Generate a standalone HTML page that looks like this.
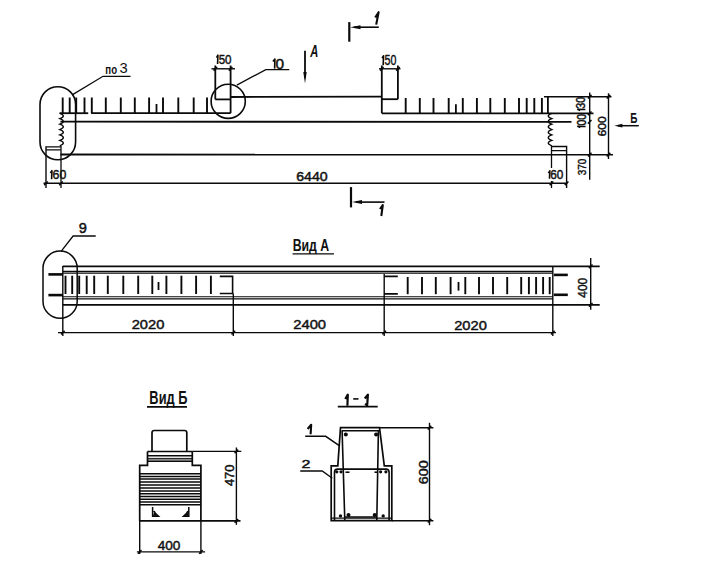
<!DOCTYPE html>
<html><head><meta charset="utf-8"><style>
html,body{margin:0;padding:0;background:#fff;width:702px;height:579px;overflow:hidden}
svg{display:block}
text{font-family:"Liberation Sans",sans-serif;fill:#111}
</style></head><body>
<svg width="702" height="579" viewBox="0 0 702 579">
<rect width="702" height="579" fill="#fff"/>
<g stroke="#0a0a0a" stroke-width="1.8" fill="none" stroke-linecap="butt">
<line x1="62.7" y1="97.5" x2="62.7" y2="113.2" stroke-width="1.9"/>
<line x1="69.7" y1="97.5" x2="69.7" y2="113.2" stroke-width="1.9"/>
<line x1="76.2" y1="97.5" x2="76.2" y2="113.2" stroke-width="1.9"/>
<line x1="84.5" y1="97.5" x2="84.5" y2="113.2" stroke-width="1.9"/>
<line x1="91.8" y1="97.5" x2="91.8" y2="113.2" stroke-width="1.9"/>
<line x1="105.8" y1="97.5" x2="105.8" y2="113.2" stroke-width="1.9"/>
<line x1="120.8" y1="97.5" x2="120.8" y2="113.2" stroke-width="1.9"/>
<line x1="134.8" y1="97.5" x2="134.8" y2="113.2" stroke-width="1.9"/>
<line x1="149.1" y1="97.5" x2="149.1" y2="113.2" stroke-width="1.9"/>
<line x1="163" y1="97.5" x2="163" y2="113.2" stroke-width="1.9"/>
<line x1="178.3" y1="97.5" x2="178.3" y2="113.2" stroke-width="1.9"/>
<line x1="193.7" y1="97.5" x2="193.7" y2="113.2" stroke-width="1.9"/>
<line x1="207" y1="97.5" x2="207" y2="113.2" stroke-width="1.9"/>
<line x1="156.5" y1="104" x2="156.5" y2="113.2"/>
<line x1="405.7" y1="98" x2="405.7" y2="113.2" stroke-width="1.9"/>
<line x1="419.8" y1="98" x2="419.8" y2="113.2" stroke-width="1.9"/>
<line x1="433.5" y1="98" x2="433.5" y2="113.2" stroke-width="1.9"/>
<line x1="448.7" y1="98" x2="448.7" y2="113.2" stroke-width="1.9"/>
<line x1="462.8" y1="98" x2="462.8" y2="113.2" stroke-width="1.9"/>
<line x1="476.9" y1="98" x2="476.9" y2="113.2" stroke-width="1.9"/>
<line x1="490.3" y1="98" x2="490.3" y2="113.2" stroke-width="1.9"/>
<line x1="504.8" y1="98" x2="504.8" y2="113.2" stroke-width="1.9"/>
<line x1="519" y1="98" x2="519" y2="113.2" stroke-width="1.9"/>
<line x1="526.7" y1="98" x2="526.7" y2="113.2" stroke-width="1.9"/>
<line x1="534.3" y1="98" x2="534.3" y2="113.2" stroke-width="1.9"/>
<line x1="541.9" y1="98" x2="541.9" y2="113.2" stroke-width="1.9"/>
<line x1="455.9" y1="104.2" x2="455.9" y2="113.2"/>
<line x1="547.9" y1="96.7" x2="547.9" y2="113.2"/>
<line x1="59.5" y1="113.2" x2="88.2" y2="113.2"/>
<line x1="91.1" y1="113.2" x2="230.6" y2="113.2"/>
<line x1="381.8" y1="113.3" x2="593.5" y2="113.3"/>
<line x1="215.3" y1="65.5" x2="215.3" y2="99.4"/>
<line x1="215.3" y1="99.4" x2="230.6" y2="99.4"/>
<line x1="230.6" y1="65.5" x2="230.6" y2="113.2"/>
<line x1="211.5" y1="68.8" x2="235" y2="68.8" stroke-width="1.4"/>
<line x1="213.5" y1="70.6" x2="217.10000000000002" y2="67.0" stroke-width="1.5"/>
<line x1="228.79999999999998" y1="70.6" x2="232.4" y2="67.0" stroke-width="1.5"/>
<line x1="230.6" y1="97.0" x2="381.8" y2="96.6"/>
<line x1="381.8" y1="65.5" x2="381.8" y2="113.3"/>
<line x1="397.9" y1="65.5" x2="397.9" y2="99.2"/>
<line x1="381.8" y1="99.2" x2="397.9" y2="99.2"/>
<line x1="379" y1="68.8" x2="400.5" y2="68.8" stroke-width="1.4"/>
<line x1="380.0" y1="70.6" x2="383.6" y2="67.0" stroke-width="1.5"/>
<line x1="396.09999999999997" y1="70.6" x2="399.7" y2="67.0" stroke-width="1.5"/>
<line x1="544" y1="96.7" x2="611.5" y2="96.7" stroke-width="1.4"/>
<line x1="60.4" y1="121.7" x2="571.5" y2="121.8"/>
<line x1="60.4" y1="154.5" x2="613" y2="154.6"/>
<path d="M59.8,113.3 Q66.84,116.01 59.8,118.72 Q66.84,121.42 59.8,124.13 Q66.84,126.84 59.8,129.55 Q66.84,132.26 59.8,134.97 Q66.84,137.68 59.8,140.38 Q66.84,143.09 59.8,145.80" stroke-width="1.4"/>
<path d="M551.8,113.3 Q544.76,116.01 551.8,118.72 Q544.76,121.42 551.8,124.13 Q544.76,126.84 551.8,129.55 Q544.76,132.26 551.8,134.97 Q544.76,137.68 551.8,140.38 Q544.76,143.09 551.8,145.80" stroke-width="1.4"/>
<path d="M46,188 V146.9 H60.8 M46,149.9 H60.8" stroke-width="1.4"/>
<path d="M551.7,146.5 H566.6 V188 M551.7,150.6 H566.6" stroke-width="1.4"/>
<line x1="61" y1="145.8" x2="61" y2="188" stroke-width="1.3"/>
<line x1="551.5" y1="145.8" x2="551.5" y2="168" stroke-width="1.3"/>
<line x1="551.5" y1="181" x2="551.5" y2="188" stroke-width="1.3"/>
<line x1="43.5" y1="183.3" x2="567.3" y2="183.3" stroke-width="1.4"/>
<line x1="44.2" y1="185.10000000000002" x2="47.8" y2="181.5" stroke-width="1.5"/>
<line x1="59.2" y1="185.10000000000002" x2="62.8" y2="181.5" stroke-width="1.5"/>
<line x1="549.7" y1="185.10000000000002" x2="553.3" y2="181.5" stroke-width="1.5"/>
<line x1="564.8000000000001" y1="185.10000000000002" x2="568.4" y2="181.5" stroke-width="1.5"/>
<line x1="589.7" y1="92.4" x2="589.7" y2="179.8" stroke-width="1.4"/>
<line x1="587.9000000000001" y1="98.5" x2="591.5" y2="94.9" stroke-width="1.5"/>
<line x1="587.9000000000001" y1="115.1" x2="591.5" y2="111.5" stroke-width="1.5"/>
<line x1="587.9000000000001" y1="123.6" x2="591.5" y2="120.0" stroke-width="1.5"/>
<line x1="587.9000000000001" y1="156.4" x2="591.5" y2="152.79999999999998" stroke-width="1.5"/>
<line x1="608.5" y1="93.3" x2="608.5" y2="159" stroke-width="1.4"/>
<line x1="606.7" y1="98.5" x2="610.3" y2="94.9" stroke-width="1.5"/>
<line x1="606.7" y1="156.4" x2="610.3" y2="152.79999999999998" stroke-width="1.5"/>
<line x1="618" y1="125.7" x2="638.8" y2="125.7" stroke-width="1.5"/>
<path d="M614.4,125.7 L622.4,123.8 L622.4,127.6 Z" fill="#0a0a0a" stroke="none"/>
<rect x="40" y="86.7" width="35.6" height="73.1" rx="17.8" ry="17.8" stroke-width="1.6"/>
<polyline points="72.2,94.9 103,76.3 130.5,76.3" stroke-width="1.3"/>
<circle cx="228.2" cy="101.3" r="17.1" stroke-width="1.6"/>
<polyline points="236.8,85.1 265.8,69.6 289.3,69.6" stroke-width="1.3"/>
<line x1="349.3" y1="22.1" x2="349.3" y2="41.7" stroke-width="2.2"/>
<line x1="354" y1="27.2" x2="378.8" y2="27.2" stroke-width="1.6"/>
<path d="M350.2,27.2 L360.5,25.2 L360.5,29.2 Z" fill="#0a0a0a" stroke="none"/>
<line x1="305" y1="50.8" x2="305" y2="78" stroke-width="1.8"/>
<path d="M305,83.6 L303.3,72 L306.7,72 Z" fill="#0a0a0a" stroke="none"/>
<line x1="351" y1="187.1" x2="351" y2="207.4" stroke-width="2.2"/>
<line x1="356" y1="202.1" x2="384.5" y2="202.1" stroke-width="1.6"/>
<path d="M352,202.1 L362,200.1 L362,204.1 Z" fill="#0a0a0a" stroke="none"/>
<line x1="62.8" y1="266.3" x2="599.7" y2="266.3"/>
<line x1="62.8" y1="304.8" x2="599.7" y2="304.8"/>
<line x1="62.8" y1="266" x2="62.8" y2="336" stroke-width="1.4"/>
<line x1="552.8" y1="266" x2="552.8" y2="336" stroke-width="1.4"/>
<line x1="62.8" y1="271.3" x2="552.8" y2="271.3" stroke-width="1.15"/>
<line x1="62.8" y1="273.1" x2="552.8" y2="273.1" stroke-width="1.15"/>
<line x1="62.8" y1="296.7" x2="552.8" y2="296.7" stroke-width="1.15"/>
<line x1="62.8" y1="298.9" x2="552.8" y2="298.9" stroke-width="1.15"/>
<line x1="48.4" y1="274.4" x2="62.8" y2="274.4" stroke-width="2.6"/>
<line x1="48.4" y1="295.1" x2="62.8" y2="295.1" stroke-width="2.6"/>
<line x1="553.8" y1="274.9" x2="567.8" y2="274.9" stroke-width="2.6"/>
<line x1="553.8" y1="294.8" x2="567.8" y2="294.8" stroke-width="2.6"/>
<line x1="65.5" y1="275.7" x2="65.5" y2="294" stroke-width="1.9"/>
<line x1="72.2" y1="275.7" x2="72.2" y2="294" stroke-width="1.9"/>
<line x1="79.2" y1="275.7" x2="79.2" y2="294" stroke-width="1.9"/>
<line x1="86.7" y1="275.7" x2="86.7" y2="294" stroke-width="1.9"/>
<line x1="94.2" y1="275.7" x2="94.2" y2="294" stroke-width="1.9"/>
<line x1="107.8" y1="275.7" x2="107.8" y2="294" stroke-width="1.9"/>
<line x1="123.3" y1="275.7" x2="123.3" y2="294" stroke-width="1.9"/>
<line x1="138.2" y1="275.7" x2="138.2" y2="294" stroke-width="1.9"/>
<line x1="152.3" y1="275.7" x2="152.3" y2="294" stroke-width="1.9"/>
<line x1="166.4" y1="275.7" x2="166.4" y2="294" stroke-width="1.9"/>
<line x1="181.4" y1="275.7" x2="181.4" y2="294" stroke-width="1.9"/>
<line x1="196.1" y1="275.7" x2="196.1" y2="294" stroke-width="1.9"/>
<line x1="210.9" y1="275.7" x2="210.9" y2="294" stroke-width="1.9"/>
<line x1="158.5" y1="282" x2="158.5" y2="290"/>
<line x1="407.7" y1="277" x2="407.7" y2="294.2" stroke-width="1.9"/>
<line x1="422" y1="277" x2="422" y2="294.2" stroke-width="1.9"/>
<line x1="435.8" y1="277" x2="435.8" y2="294.2" stroke-width="1.9"/>
<line x1="450.6" y1="277" x2="450.6" y2="294.2" stroke-width="1.9"/>
<line x1="465.3" y1="277" x2="465.3" y2="294.2" stroke-width="1.9"/>
<line x1="479" y1="277" x2="479" y2="294.2" stroke-width="1.9"/>
<line x1="493" y1="277" x2="493" y2="294.2" stroke-width="1.9"/>
<line x1="507.2" y1="277" x2="507.2" y2="294.2" stroke-width="1.9"/>
<line x1="521.2" y1="277" x2="521.2" y2="294.2" stroke-width="1.9"/>
<line x1="528.9" y1="277" x2="528.9" y2="294.2" stroke-width="1.9"/>
<line x1="536.1" y1="277" x2="536.1" y2="294.2" stroke-width="1.9"/>
<line x1="543.1" y1="277" x2="543.1" y2="294.2" stroke-width="1.9"/>
<line x1="549.7" y1="277" x2="549.7" y2="294.2" stroke-width="1.9"/>
<line x1="458.5" y1="282" x2="458.5" y2="290.6"/>
<path d="M219.8,276.4 H232.6 V293.5 H219.8" stroke-width="1.6"/>
<line x1="233.3" y1="293.5" x2="233.3" y2="336" stroke-width="1.4"/>
<line x1="384.2" y1="274" x2="384.2" y2="336" stroke-width="1.4"/>
<path d="M397.8,276.4 H384.2 M384.2,293.9 H397.8" stroke-width="1.6"/>
<line x1="58" y1="332.6" x2="556" y2="332.6" stroke-width="1.3"/>
<line x1="61.0" y1="334.40000000000003" x2="64.6" y2="330.8" stroke-width="1.5"/>
<line x1="231.5" y1="334.40000000000003" x2="235.10000000000002" y2="330.8" stroke-width="1.5"/>
<line x1="382.4" y1="334.40000000000003" x2="386.0" y2="330.8" stroke-width="1.5"/>
<line x1="551.0" y1="334.40000000000003" x2="554.5999999999999" y2="330.8" stroke-width="1.5"/>
<line x1="590.7" y1="258" x2="590.7" y2="309.8" stroke-width="1.4"/>
<line x1="588.9000000000001" y1="268.1" x2="592.5" y2="264.5" stroke-width="1.5"/>
<line x1="588.9000000000001" y1="306.6" x2="592.5" y2="303.0" stroke-width="1.5"/>
<rect x="43" y="251.1" width="34.2" height="67.2" rx="17.1" ry="17.1" stroke-width="1.5"/>
<polyline points="61.1,251.3 73.1,236 95.7,236" stroke-width="1.3"/>
<line x1="292.6" y1="253.8" x2="334" y2="253.8" stroke-width="1.3"/>
<line x1="147" y1="406.9" x2="187" y2="406.9" stroke-width="1.6"/>
<path d="M152,451.5 V432.8 Q152,430.5 154.3,430.5 H184.5 Q186.8,430.5 186.8,432.8 V451.5" stroke-width="1.7"/>
<path d="M147.5,451.5 H192.3" stroke-width="1.6"/>
<path d="M147.5,455.8 H192.3" stroke-width="1.4"/>
<rect x="147.5" y="458.2" width="44.8" height="3.3" fill="#8a8a8a" stroke="none"/>
<path d="M147.5,458.4 H192.3" stroke-width="0.9"/>
<path d="M147.5,461.4 H192.3" stroke-width="1.2"/>
<path d="M147.5,451.5 V465.4 H139.7 V520.9 M192.3,451.5 V465.4 H200.9 V520.9" stroke-width="1.7"/>
<line x1="192.3" y1="451.4" x2="241.3" y2="451.4" stroke-width="1.4"/>
<line x1="139.7" y1="473.8" x2="200.9" y2="473.8" stroke-width="1.5"/>
<line x1="139.7" y1="476.4" x2="200.9" y2="476.4" stroke-width="1.5"/>
<line x1="139.7" y1="479.1" x2="200.9" y2="479.1" stroke-width="1.5"/>
<line x1="139.7" y1="482.1" x2="200.9" y2="482.1" stroke-width="1.5"/>
<line x1="139.7" y1="485.1" x2="200.9" y2="485.1" stroke-width="1.5"/>
<line x1="139.7" y1="488.0" x2="200.9" y2="488.0" stroke-width="1.5"/>
<line x1="139.7" y1="490.9" x2="200.9" y2="490.9" stroke-width="1.5"/>
<line x1="139.7" y1="493.8" x2="200.9" y2="493.8" stroke-width="1.5"/>
<line x1="139.7" y1="496.6" x2="200.9" y2="496.6" stroke-width="1.5"/>
<line x1="139.7" y1="499.3" x2="200.9" y2="499.3" stroke-width="1.5"/>
<line x1="139.7" y1="502.1" x2="200.9" y2="502.1" stroke-width="1.5"/>
<line x1="139.7" y1="504.8" x2="200.9" y2="504.8" stroke-width="1.5"/>
<line x1="139.7" y1="520.9" x2="240.5" y2="520.9" stroke-width="1.6"/>
<path d="M152.6,506.9 V516.2 H158.3 Q155,513.5 154,511" stroke-width="1.5"/>
<path d="M153,516 L158,516 L154.2,511.5 Z" fill="#111" stroke="none"/>
<path d="M188.8,506.9 V516.2 H183.7 Q187,513.5 188,511" stroke-width="1.5"/>
<path d="M188.5,516 L183.7,516 L187.8,511.5 Z" fill="#111" stroke="none"/>
<line x1="236.4" y1="447.5" x2="236.4" y2="524.8" stroke-width="1.4"/>
<line x1="234.6" y1="453.2" x2="238.20000000000002" y2="449.59999999999997" stroke-width="1.5"/>
<line x1="234.6" y1="522.6999999999999" x2="238.20000000000002" y2="519.1" stroke-width="1.5"/>
<line x1="139.7" y1="520.9" x2="139.7" y2="554" stroke-width="1.4"/>
<line x1="200.9" y1="520.9" x2="200.9" y2="554" stroke-width="1.4"/>
<line x1="136.9" y1="551.9" x2="205.1" y2="551.9" stroke-width="1.4"/>
<line x1="137.89999999999998" y1="553.6999999999999" x2="141.5" y2="550.1" stroke-width="1.5"/>
<line x1="199.1" y1="553.6999999999999" x2="202.70000000000002" y2="550.1" stroke-width="1.5"/>
<line x1="337.8" y1="406.6" x2="377.7" y2="406.6" stroke-width="1.6"/>
<line x1="353.2" y1="398.9" x2="358.5" y2="398.9" stroke-width="1.6"/>
<path d="M340.5,427.7 H379.5 L384.3,465.9 H391.8 V520.7 H331.2 V465.9 H337.8 Z" stroke-width="1.7"/>
<line x1="331.2" y1="518.1" x2="391.8" y2="518.1" stroke-width="1.4"/>
<line x1="379.5" y1="427.7" x2="433.4" y2="427.7" stroke-width="1.4"/>
<line x1="391.8" y1="520.7" x2="433.4" y2="520.7" stroke-width="1.4"/>
<line x1="429.5" y1="422.8" x2="429.5" y2="525.2" stroke-width="1.4"/>
<line x1="427.7" y1="429.5" x2="431.3" y2="425.9" stroke-width="1.5"/>
<line x1="427.7" y1="522.5" x2="431.3" y2="518.9000000000001" stroke-width="1.5"/>
<path d="M341.6,430.7 H379 M342.1,430.7 L344.8,520.7 M378.4,430.7 L376.8,520.7 M344.8,517 H376.8" stroke-width="1.6"/>
<path d="M334.5,520.5 V472.2 Q334.5,469.1 337.6,469.1 H386 Q389.1,469.1 389.1,472.2 V520.5" stroke-width="1.6"/>
<circle cx="345.8" cy="434.4" r="2.0" fill="#0a0a0a" stroke="none"/>
<circle cx="376.1" cy="434.4" r="2.0" fill="#0a0a0a" stroke="none"/>
<circle cx="336.8" cy="471.8" r="1.6" fill="#0a0a0a" stroke="none"/>
<circle cx="341" cy="471.8" r="1.6" fill="#0a0a0a" stroke="none"/>
<circle cx="380.6" cy="471.8" r="1.6" fill="#0a0a0a" stroke="none"/>
<circle cx="385.9" cy="471.8" r="1.6" fill="#0a0a0a" stroke="none"/>
<circle cx="340.5" cy="515.9" r="1.7" fill="#0a0a0a" stroke="none"/>
<circle cx="348.5" cy="514.9" r="2.0" fill="#0a0a0a" stroke="none"/>
<circle cx="374.7" cy="514.9" r="2.0" fill="#0a0a0a" stroke="none"/>
<circle cx="383.2" cy="515.9" r="1.7" fill="#0a0a0a" stroke="none"/>
<line x1="345.5" y1="472.2" x2="349.5" y2="472.2" stroke-width="1.6"/>
<line x1="374.5" y1="472.2" x2="377" y2="472.2" stroke-width="1.6"/>
<polyline points="305.2,436.3 325.7,436.3 339.6,445.8" stroke-width="1.4"/>
<path d="M300.2,471 H322.2 L332.3,478.2" stroke-width="1.4"/>
<text font-size="12.73" font-weight="bold" font-style="normal" stroke="none" transform="translate(105.32,73.57) scale(0.761,1)">по</text>
<text font-size="15.49" font-weight="normal" font-style="normal" stroke="none" transform="translate(119.61,72.85) scale(0.951,1)">3</text>
<path d="M216.50,57.60 L217.90,55.20 L217.60,64.00" stroke-width="1.6" stroke-linejoin="round"/>
<text font-size="13.52" font-weight="normal" font-style="normal" stroke="#111" stroke-width="0.45" stroke-linejoin="round" transform="translate(218.64,64.06) scale(0.857,1)">50</text>
<path d="M272.90,61.50 L274.90,59.10 L274.60,68.60" stroke-width="1.6" stroke-linejoin="round"/>
<text font-size="14.51" font-weight="normal" font-style="normal" stroke="#111" stroke-width="0.45" stroke-linejoin="round" transform="translate(275.48,68.65) scale(1.063,1)">0</text>
<path d="M382.00,58.20 L383.50,55.80 L383.20,65.20" stroke-width="1.6" stroke-linejoin="round"/>
<text font-size="14.37" font-weight="normal" font-style="normal" stroke="#111" stroke-width="0.45" stroke-linejoin="round" transform="translate(384.47,65.26) scale(0.740,1)">50</text>
<text font-size="15.65" font-weight="bold" font-style="italic" stroke="none" transform="translate(310.32,57.30) scale(0.715,1)">A</text>
<path d="M50.40,173.00 L51.90,170.60 L51.60,179.30" stroke-width="1.6" stroke-linejoin="round"/>
<text font-size="13.38" font-weight="normal" font-style="normal" stroke="#111" stroke-width="0.45" stroke-linejoin="round" transform="translate(52.58,179.37) scale(0.926,1)">60</text>
<text font-size="12.61" font-weight="normal" font-style="normal" stroke="#111" stroke-width="0.45" stroke-linejoin="round" transform="translate(296.19,180.87) scale(1.123,1)">6440</text>
<path d="M548.40,173.20 L549.80,170.80 L549.50,178.70" stroke-width="1.6" stroke-linejoin="round"/>
<text font-size="12.25" font-weight="normal" font-style="normal" stroke="#111" stroke-width="0.45" stroke-linejoin="round" transform="translate(550.21,178.78) scale(0.963,1)">60</text>
<path d="M580.10,110.60 L577.70,109.20 L585.40,109.50" stroke-width="1.6" stroke-linejoin="round"/>
<text font-size="11.97" font-weight="normal" font-style="normal" stroke="#111" stroke-width="0.45" stroke-linejoin="round" transform="translate(585.48,108.63) rotate(-90) scale(0.888,1)">30</text>
<path d="M580.20,127.60 L577.80,126.20 L585.60,126.50" stroke-width="1.6" stroke-linejoin="round"/>
<text font-size="12.11" font-weight="normal" font-style="normal" stroke="#111" stroke-width="0.45" stroke-linejoin="round" transform="translate(585.68,125.52) rotate(-90) scale(0.861,1)">00</text>
<text font-size="10.99" font-weight="normal" font-style="normal" stroke="#111" stroke-width="0.45" stroke-linejoin="round" transform="translate(606.19,136.61) rotate(-90) scale(1.112,1)">600</text>
<text font-size="11.83" font-weight="normal" font-style="normal" stroke="#111" stroke-width="0.45" stroke-linejoin="round" transform="translate(586.18,175.20) rotate(-90) scale(0.840,1)">370</text>
<path d="M375.2,17.5 L378.6,12.2 L376.2,24.6" stroke-width="2.1" stroke-linejoin="round"/>
<path d="M380,209 L382.8,205 L381.3,216" stroke-width="2.1" stroke-linejoin="round"/>
<path d="M345.3,399 L347.8,394.6 L347.4,405.7" stroke-width="2.2" stroke-linejoin="round"/>
<path d="M364.8,398.5 L367.9,394.6 L367.2,405.2 L365,404" stroke-width="2.2" stroke-linejoin="round"/>
<path d="M307.6,429 L311.2,424.8 L310.6,434.2" stroke-width="2.1" stroke-linejoin="round"/>
<text font-size="15.36" font-weight="bold" font-style="normal" stroke="none" transform="translate(630.35,123.40) scale(0.651,1)">Б</text>
<text font-size="14.51" font-weight="normal" font-style="normal" stroke="#111" stroke-width="0.45" stroke-linejoin="round" transform="translate(78.84,233.25) scale(1.008,1)">9</text>
<text font-size="17.10" font-weight="bold" font-style="normal" stroke="none" transform="translate(292.70,251.20) scale(0.719,1)">Вид А</text>
<text font-size="12.68" font-weight="normal" font-style="normal" stroke="#111" stroke-width="0.45" stroke-linejoin="round" transform="translate(131.67,328.87) scale(1.158,1)">2020</text>
<text font-size="12.68" font-weight="normal" font-style="normal" stroke="#111" stroke-width="0.45" stroke-linejoin="round" transform="translate(293.16,329.37) scale(1.169,1)">2400</text>
<text font-size="12.82" font-weight="normal" font-style="normal" stroke="#111" stroke-width="0.45" stroke-linejoin="round" transform="translate(454.17,329.67) scale(1.145,1)">2020</text>
<text font-size="12.82" font-weight="normal" font-style="normal" stroke="#111" stroke-width="0.45" stroke-linejoin="round" transform="translate(587.47,297.74) rotate(-90) scale(0.930,1)">400</text>
<text font-size="17.54" font-weight="bold" font-style="normal" stroke="none" transform="translate(149.37,403.80) scale(0.731,1)">Вид Б</text>
<text font-size="12.25" font-weight="normal" font-style="normal" stroke="#111" stroke-width="0.45" stroke-linejoin="round" transform="translate(233.58,486.06) rotate(-90) scale(1.054,1)">470</text>
<text font-size="13.66" font-weight="normal" font-style="normal" stroke="#111" stroke-width="0.45" stroke-linejoin="round" transform="translate(157.73,549.56) scale(0.996,1)">400</text>
<text font-size="11.57" font-weight="normal" font-style="normal" stroke="#111" stroke-width="0.45" stroke-linejoin="round" transform="translate(301.40,468.30) scale(1.387,1)">2</text>
<text font-size="11.97" font-weight="normal" font-style="normal" stroke="#111" stroke-width="0.45" stroke-linejoin="round" transform="translate(427.58,484.22) rotate(-90) scale(1.200,1)">600</text>
</g>
</svg>
</body></html>
